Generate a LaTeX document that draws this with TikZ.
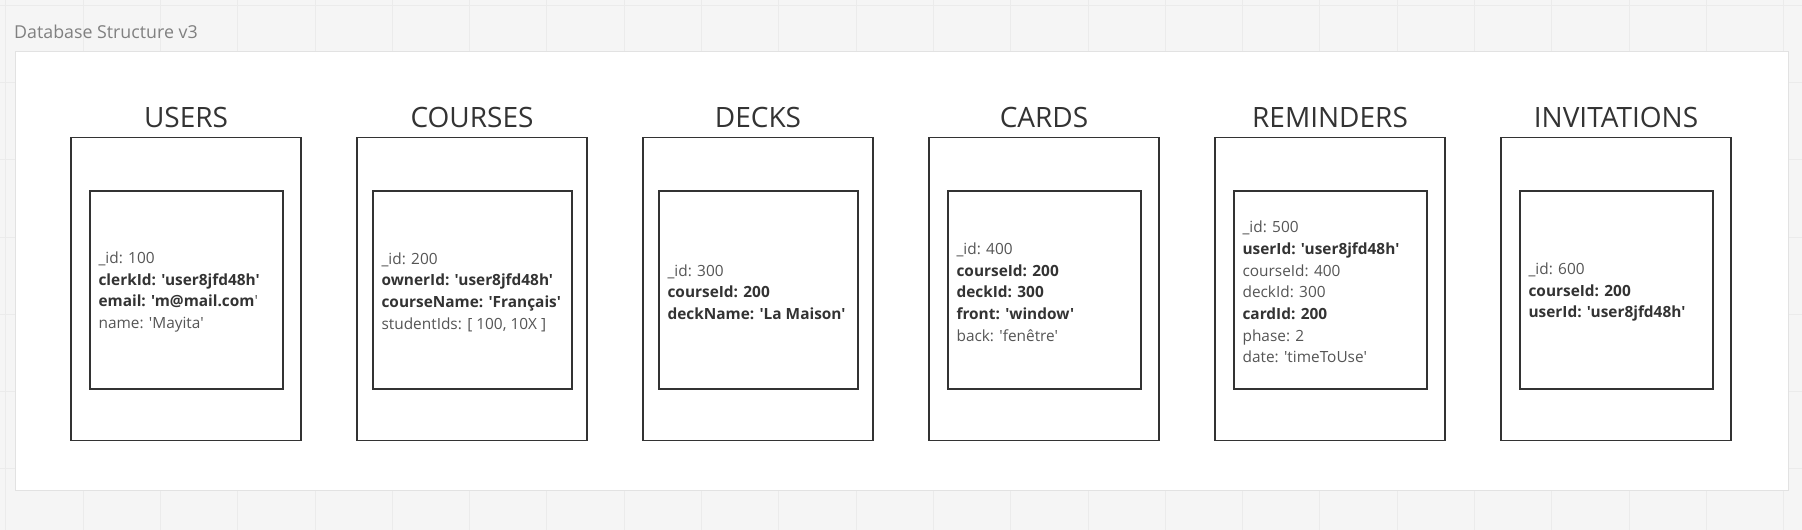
\documentclass[tikz,border=0pt]{standalone}
\usepackage{fontspec}
\usepackage{xcolor}
\usetikzlibrary{positioning}
\newfontfamily\osans{Open Sans}
\newcommand{\kf}[1]{{\bfseries\color{keygrey}#1}}

\begin{document}
\begin{tikzpicture}[x=1pt,y=-1pt,
  tablebox/.style={draw=linegrey,line width=1.3pt,minimum width=230,minimum height=303,inner sep=0},
  docbox/.style={draw=linegrey,line width=1.3pt,minimum height=198,inner sep=0},
  tabletitle/.style={font=\osans\fontsize{28}{28}\selectfont,text=headgrey,anchor=base,inner sep=0},
  fields/.style={font=\osans\fontsize{15.4}{21.7}\selectfont,text=fieldgrey,align=left,inner sep=0,yshift=-2pt},
  gridline/.style={draw=gridgrey,line width=0.8pt}]
\definecolor{bggrey}{HTML}{F5F5F5}
\definecolor{gridgrey}{HTML}{EBEBEB}
\definecolor{panelborder}{HTML}{E2E2E2}
\definecolor{linegrey}{HTML}{333333}
\definecolor{headgrey}{HTML}{333333}
\definecolor{keygrey}{HTML}{333333}
\definecolor{fieldgrey}{HTML}{555555}
\definecolor{titlegrey}{HTML}{808080}
\useasboundingbox (0,0) rectangle (1802,530);
\fill[bggrey] (0,0) rectangle (1802,530);
\foreach \gx in {0,...,23}
  {\draw[gridline] ({5.7+77.3*\gx},0) -- ({5.7+77.3*\gx},530);}
\foreach \gy in {0,...,6}
  {\draw[gridline] (0,{5+77.3*\gy}) -- (1802,{5+77.3*\gy});}
\node[draw=panelborder,fill=white,line width=0.8pt,anchor=north west,minimum width=1773,minimum height=439,inner sep=0] (panel) at (15,51) {};
\node[anchor=base west,inner sep=0,font=\osans\fontsize{17.8}{17.8}\selectfont,text=titlegrey] (title) at (14,38) {Database Structure v3};
  \foreach \i/\name/\heading/\docw/\fieldtext in {
    0/users/USERS/193/{\_id: 100\\ \kf{clerkId: 'user8jfd48h'}\\ \kf{email: 'm@mail.com}'\\ name: 'Mayita'},
    1/courses/COURSES/199/{\_id: 200\\ \kf{ownerId: 'user8jfd48h'}\\ \kf{courseName: 'Français'}\\ studentIds: [ 100, 10X ]},
    2/decks/DECKS/199/{\_id: 300\\ \kf{courseId: 200}\\ \kf{deckName: 'La Maison'}},
    3/cards/CARDS/193/{\_id: 400\\ \kf{courseId: 200}\\ \kf{deckId: 300}\\ \kf{front: 'window'}\\ back: 'fenêtre'},
    4/reminders/REMINDERS/193/{\_id: 500\\ \kf{userId: 'user8jfd48h'}\\ courseId: 400\\ deckId: 300\\ \kf{cardId: 200}\\ phase: 2\\ date: 'timeToUse'},
    5/invitations/INVITATIONS/193/{\_id: 600\\ \kf{courseId: 200}\\ \kf{userId: 'user8jfd48h'}}}
  { \node [tablebox] (\name) at ({186+286*\i},289.3) {};
    \node [tabletitle] (\name-title) at ({186+286*\i},127.5) {\heading};
    \node [docbox,minimum width=\docw] (\name-doc) at ({186.5+286*\i},290) {};
    \node [fields,right=9pt of \name-doc.west] (\name-fields) {\fieldtext};}
\end{tikzpicture}
\end{document}
